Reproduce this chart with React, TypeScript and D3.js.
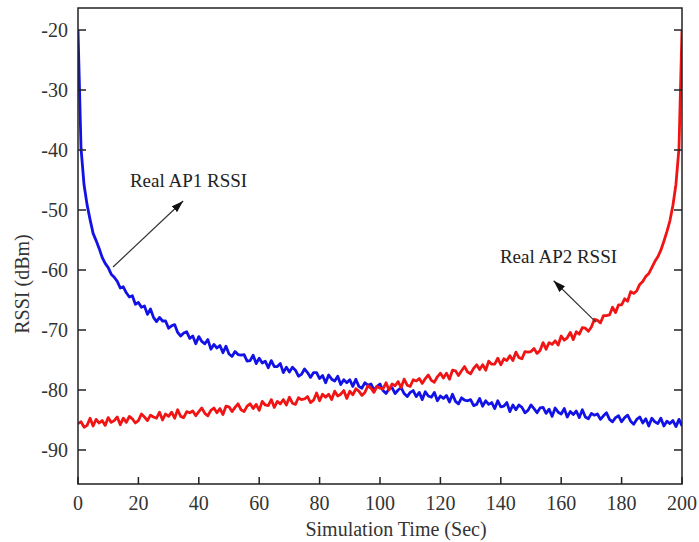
import React from 'react';
import * as d3 from 'd3';

// RSSI samples (dBm), one per second of simulation
const ap1Rssi = [
  -20, -39.7, -45.8, -49.1, -51.6, -53.9, -55.1, -56.4, -57.9, -58.9,
  -59.6, -60.7, -61.2, -61.9, -63.0, -62.8, -63.8, -64.5, -64.3, -65.7,
  -65.4, -66.2, -66.0, -67.4, -66.5, -67.9, -68.6, -67.9, -68.5, -68.5,
  -69.7, -69.3, -69.1, -70.4, -71.0, -70.5, -70.3, -71.4, -71.0, -72.3,
  -71.1, -71.9, -72.3, -71.6, -73.2, -72.4, -73.0, -72.6, -73.8, -72.7,
  -74.0, -74.4, -73.6, -74.1, -74.2, -74.1, -75.2, -75.1, -74.2, -75.6,
  -74.7, -75.5, -75.2, -76.3, -75.1, -76.1, -76.1, -75.6, -77.1, -76.2,
  -77.0, -76.2, -76.7, -77.7, -77.4, -76.5, -77.1, -77.9, -77.1, -77.1,
  -78.1, -77.6, -78.8, -77.5, -78.2, -78.5, -77.7, -79.1, -78.3, -78.8,
  -78.3, -79.4, -78.2, -79.4, -79.7, -78.8, -79.2, -79.0, -80.0, -79.4,
  -79.0, -80.1, -80.6, -79.8, -79.6, -80.6, -80.0, -79.6, -80.6, -81.1,
  -80.4, -80.1, -81.1, -80.4, -81.6, -80.3, -81.0, -81.2, -80.4, -81.8,
  -81.0, -81.4, -80.9, -82.0, -80.7, -81.9, -82.3, -81.3, -81.7, -81.8,
  -81.6, -82.6, -82.4, -81.4, -82.7, -81.8, -82.4, -82.1, -83.1, -81.8,
  -82.8, -82.7, -82.1, -83.6, -82.5, -83.3, -82.5, -82.9, -83.8, -83.4,
  -82.5, -83.1, -83.8, -83.0, -82.9, -83.9, -83.2, -84.4, -83.0, -83.7,
  -84.0, -83.1, -84.5, -83.6, -84.1, -83.5, -84.6, -83.3, -84.5, -84.8,
  -83.9, -84.2, -84.0, -84.9, -84.3, -83.8, -84.9, -85.3, -84.6, -84.3,
  -85.3, -84.6, -84.2, -85.2, -85.7, -84.9, -84.5, -85.5, -84.8, -86.0,
  -84.7, -85.3, -85.6, -84.7, -86.0, -85.2, -85.6, -85.1, -86.1, -84.9,
  -86.0,
];

const ap2Rssi = [
  -85.6, -85.3, -86.2, -85.9, -84.7, -86.0, -84.9, -85.5, -85.1, -85.9,
  -84.6, -85.4, -85.1, -84.5, -85.8, -84.7, -85.4, -84.4, -84.8, -85.5,
  -85.1, -84.0, -84.5, -85.1, -84.2, -84.5, -84.7, -83.7, -85.0, -84.0,
  -84.4, -83.7, -84.7, -83.3, -84.4, -84.6, -83.6, -83.8, -83.5, -84.3,
  -83.6, -83.0, -83.9, -84.3, -83.4, -83.0, -83.8, -83.1, -84.1, -82.7,
  -82.8, -83.6, -82.9, -82.3, -83.3, -83.6, -82.7, -82.3, -83.1, -82.4,
  -83.4, -81.9, -82.5, -82.6, -81.6, -82.9, -81.9, -82.3, -81.6, -82.5,
  -81.2, -82.2, -82.4, -81.3, -81.6, -81.5, -81.1, -82.1, -81.7, -80.5,
  -81.8, -80.7, -81.2, -80.7, -81.6, -80.2, -81.0, -80.7, -80.1, -81.4,
  -80.2, -80.8, -79.8, -80.2, -80.9, -80.4, -79.3, -79.7, -80.4, -79.4,
  -79.7, -79.8, -78.8, -80.0, -79.0, -79.3, -78.6, -79.6, -78.2, -79.2,
  -79.4, -78.3, -78.5, -78.1, -78.9, -78.1, -77.5, -78.4, -78.7, -77.8,
  -77.2, -78.0, -77.2, -78.2, -76.7, -76.8, -77.6, -76.8, -76.1, -77.0,
  -77.3, -76.4, -75.8, -76.6, -75.8, -76.7, -75.2, -75.7, -75.7, -74.7,
  -75.8, -74.8, -75.1, -74.3, -75.1, -73.7, -74.6, -74.8, -73.6, -73.7,
  -73.6, -73.1, -73.9, -73.4, -72.1, -73.2, -72.1, -72.4, -71.8, -72.5,
  -71.0, -71.7, -71.3, -70.4, -71.6, -70.3, -70.7, -69.6, -69.7, -70.2,
  -69.5, -68.2, -68.4, -68.8, -67.6, -67.6, -67.5, -66.2, -67.1, -65.8,
  -65.8, -64.8, -65.2, -63.6, -63.9, -63.5, -62.4, -61.9, -61.1, -60.6,
  -59.6, -58.6, -57.8, -56.7, -55.2, -53.6, -51.8, -49.2, -45.7, -39.7,
  -20,
];

const xTicks = [0, 20, 40, 60, 80, 100, 120, 140, 160, 180, 200];
const yTicks = [-90, -80, -70, -60, -50, -40, -30, -20];

const annotations = [
  { label: 'Real AP1 RSSI', textAt: [17.2, -46.2], from: [11.6, -59.5], to: [34.8, -48.5] },
  { label: 'Real AP2 RSSI', textAt: [139.7, -58.8], from: [171.5, -68.7], to: [157.5, -61.8] },
];

const W = 699;
const H = 542;
const font = '"Liberation Serif", "Times New Roman", serif';

export default function App() {
  const x = d3.scaleLinear().domain([0, 200]).range([78, 682]);
  const y = d3.scaleLinear().domain([-95.67, -16.33]).range([484, 8]);

  const line = d3.line<number>()
    .x((d, i) => x(i))
    .y(d => y(d));

  const [x0, x1] = x.range();
  const [y0, y1] = y.range();

  return (
    <svg width={W} height={H} style={{ position: 'absolute', left: 0, top: 0, background: '#fff' }}>
      <defs>
        <marker id="head" viewBox="0 0 12 8" refX="12" refY="4" markerWidth="12" markerHeight="8"
          markerUnits="userSpaceOnUse" orient="auto">
          <path d="M0,0 L12,4 L0,8 Z" fill="#111" />
        </marker>
        <clipPath id="plot">
          <rect x={x0} y={y1} width={x1 - x0} height={y0 - y1} />
        </clipPath>
      </defs>

      <g clipPath="url(#plot)">
        <path d={line(ap1Rssi) || ''} fill="none" stroke="#1212e6" strokeWidth={2.8} strokeLinejoin="round" />
        <path d={line(ap2Rssi) || ''} fill="none" stroke="#f01414" strokeWidth={2.8} strokeLinejoin="round" />
      </g>

      {/* frame */}
      <rect x={x0} y={y1} width={x1 - x0} height={y0 - y1} fill="none" stroke="#222" strokeWidth={1.5} />

      {/* y ticks, both sides, pointing inward */}
      {yTicks.map(t => (
        <g key={'y' + t}>
          <line x1={x0} x2={x0 + 8} y1={y(t)} y2={y(t)} stroke="#222" strokeWidth={1.5} />
          <line x1={x1} x2={x1 - 8} y1={y(t)} y2={y(t)} stroke="#222" strokeWidth={1.5} />
          <text x={68} y={y(t) + 7} textAnchor="end" fontFamily={font} fontSize={20} fill="#333">{t}</text>
        </g>
      ))}

      {/* x ticks */}
      {xTicks.map(t => (
        <g key={'x' + t}>
          <line x1={x(t)} x2={x(t)} y1={y0} y2={y0 - 7} stroke="#222" strokeWidth={1.5} />
          <text x={x(t)} y={510} textAnchor="middle" fontFamily={font} fontSize={20} fill="#333">{t}</text>
        </g>
      ))}

      <text x={396} y={536} textAnchor="middle" fontFamily={font} fontSize={20} fill="#333">Simulation Time (Sec)</text>
      <text transform="translate(29,284) rotate(-90)" textAnchor="middle" fontFamily={font} fontSize={20} fill="#333">RSSI (dBm)</text>

      {annotations.map(a => (
        <g key={a.label}>
          <line x1={x(a.from[0])} y1={y(a.from[1])} x2={x(a.to[0])} y2={y(a.to[1])}
            stroke="#333" strokeWidth={1.2} markerEnd="url(#head)" />
          <text x={x(a.textAt[0])} y={y(a.textAt[1])} fontFamily={font} fontSize={19} fill="#222">{a.label}</text>
        </g>
      ))}
    </svg>
  );
}
